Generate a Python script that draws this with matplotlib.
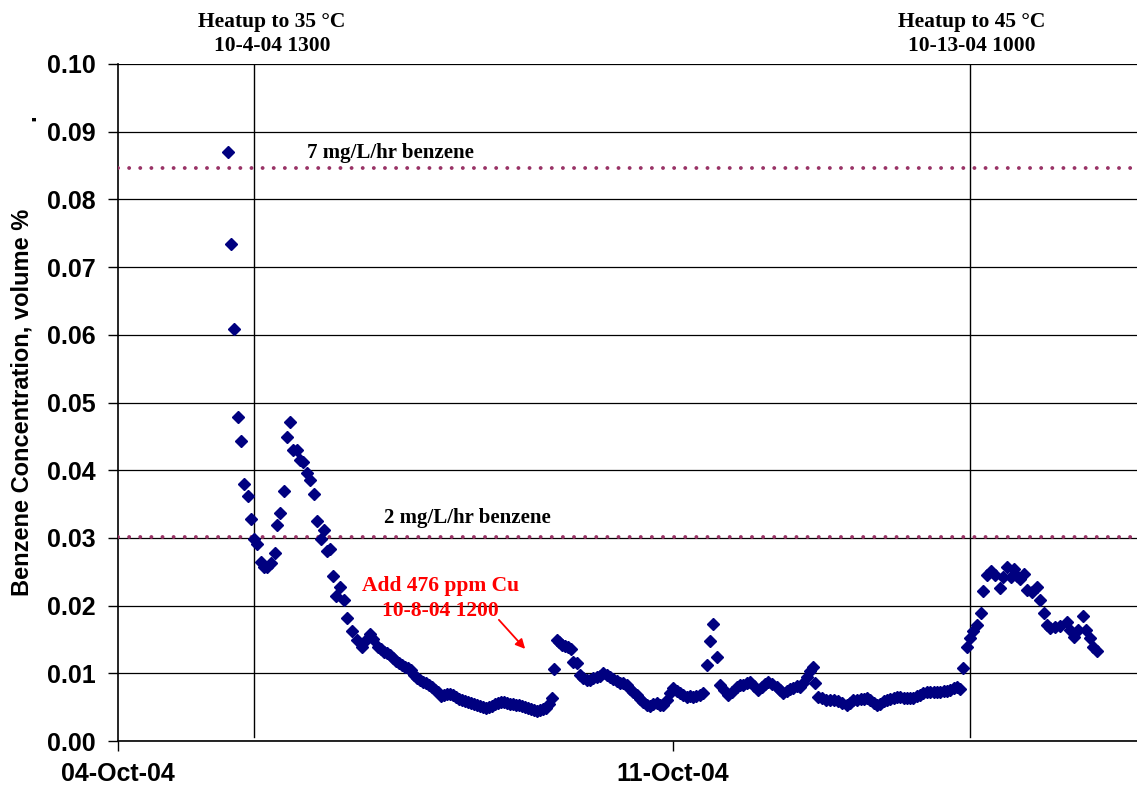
import numpy as np
import matplotlib.pyplot as plt
import matplotlib.dates as mdates
import matplotlib.transforms as mtransforms

# time in days after 04-Oct-04 00:00, benzene in volume %
days = [
    1.387, 1.425, 1.463, 1.510, 1.548, 1.589, 1.636, 1.674, 1.719, 1.757,
    1.804, 1.841, 1.883, 1.926, 1.976, 2.009, 2.043, 2.094, 2.135, 2.169,
    2.211, 2.258, 2.295, 2.337, 2.384, 2.425, 2.472, 2.506, 2.556, 2.594,
    2.632, 2.674, 2.715, 2.749, 2.800, 2.844, 2.894, 2.955, 3.010, 3.074,
    3.115, 3.178, 3.220, 3.283, 3.317, 3.355, 3.393, 3.430, 3.468, 3.506,
    3.544, 3.582, 3.620, 3.657, 3.695, 3.733, 3.771, 3.809, 3.847, 3.885,
    3.922, 3.960, 3.998, 4.036, 4.074, 4.112, 4.149, 4.187, 4.225, 4.263,
    4.301, 4.339, 4.376, 4.414, 4.452, 4.490, 4.528, 4.566, 4.603, 4.641,
    4.679, 4.717, 4.755, 4.793, 4.830, 4.868, 4.906, 4.944, 4.982, 5.020,
    5.057, 5.095, 5.133, 5.171, 5.209, 5.247, 5.284, 5.322, 5.360, 5.398,
    5.436, 5.474, 5.499, 5.533, 5.562, 5.600, 5.638, 5.675, 5.713, 5.742,
    5.783, 5.827, 5.865, 5.911, 5.953, 5.994, 6.037, 6.079, 6.121, 6.161,
    6.205, 6.243, 6.287, 6.331, 6.369, 6.416, 6.457, 6.495, 6.539, 6.584,
    6.621, 6.668, 6.710, 6.748, 6.794, 6.836, 6.877, 6.924, 6.962, 7.004,
    7.044, 7.088, 7.126, 7.173, 7.214, 7.252, 7.290, 7.334, 7.382, 7.425,
    7.466, 7.500, 7.551, 7.592, 7.643, 7.697, 7.744, 7.803, 7.845, 7.886,
    7.927, 7.971, 8.021, 8.076, 8.116, 8.160, 8.201, 8.248, 8.307, 8.349,
    8.391, 8.431, 8.475, 8.517, 8.564, 8.602, 8.643, 8.686, 8.728, 8.762,
    8.791, 8.832, 8.879, 8.929, 8.980, 9.030, 9.081, 9.131, 9.190, 9.232,
    9.274, 9.320, 9.371, 9.409, 9.446, 9.484, 9.529, 9.569, 9.610, 9.655,
    9.695, 9.737, 9.787, 9.825, 9.863, 9.907, 9.951, 9.989, 10.030, 10.077,
    10.115, 10.157, 10.203, 10.241, 10.285, 10.326, 10.367, 10.411, 10.452, 10.493,
    10.537, 10.578, 10.619, 10.661, 10.704, 10.746, 10.787, 10.830, 10.880, 10.913,
    10.964, 11.006, 11.061, 11.124, 11.166, 11.216, 11.259, 11.300, 11.334, 11.376,
    11.427, 11.468, 11.524, 11.587, 11.628, 11.679, 11.713, 11.755, 11.818, 11.880,
    11.965, 12.007, 12.057, 12.112, 12.167, 12.209, 12.259, 12.301, 12.343,
]
benzene = [
    0.0870, 0.0734, 0.0609, 0.0479, 0.0443, 0.0380, 0.0362, 0.0328, 0.0298, 0.0291,
    0.0264, 0.0257, 0.0257, 0.0263, 0.0278, 0.0319, 0.0337, 0.0369, 0.0449, 0.0471,
    0.0430, 0.0430, 0.0415, 0.0412, 0.0396, 0.0386, 0.0365, 0.0325, 0.0298, 0.0312,
    0.0281, 0.0284, 0.0244, 0.0214, 0.0227, 0.0208, 0.0182, 0.0162, 0.0149, 0.0139,
    0.0148, 0.0158, 0.0151, 0.0139, 0.0136, 0.0131, 0.0130, 0.0127, 0.0123, 0.0118,
    0.0115, 0.0112, 0.0109, 0.0108, 0.0105, 0.0097, 0.0093, 0.0090, 0.0087, 0.0086,
    0.0083, 0.0080, 0.0075, 0.0072, 0.0066, 0.0068, 0.0069, 0.0069, 0.0068, 0.0065,
    0.0062, 0.0061, 0.0059, 0.0058, 0.0056, 0.0055, 0.0053, 0.0052, 0.0050, 0.0049,
    0.0050, 0.0052, 0.0055, 0.0056, 0.0058, 0.0058, 0.0056, 0.0055, 0.0055, 0.0053,
    0.0053, 0.0052, 0.0050, 0.0049, 0.0047, 0.0046, 0.0044, 0.0046, 0.0047, 0.0049,
    0.0055, 0.0064, 0.0106, 0.0149, 0.0146, 0.0142, 0.0140, 0.0139, 0.0136, 0.0117,
    0.0115, 0.0097, 0.0093, 0.0090, 0.0090, 0.0093, 0.0095, 0.0096, 0.0100, 0.0097,
    0.0095, 0.0092, 0.0089, 0.0086, 0.0086, 0.0083, 0.0077, 0.0072, 0.0068, 0.0062,
    0.0058, 0.0053, 0.0052, 0.0055, 0.0056, 0.0053, 0.0053, 0.0061, 0.0071, 0.0078,
    0.0074, 0.0071, 0.0068, 0.0065, 0.0066, 0.0065, 0.0066, 0.0068, 0.0071, 0.0112,
    0.0148, 0.0173, 0.0124, 0.0083, 0.0075, 0.0068, 0.0072, 0.0080, 0.0083, 0.0083,
    0.0086, 0.0087, 0.0081, 0.0075, 0.0080, 0.0084, 0.0087, 0.0084, 0.0080, 0.0075,
    0.0071, 0.0074, 0.0077, 0.0078, 0.0081, 0.0080, 0.0086, 0.0095, 0.0103, 0.0109,
    0.0086, 0.0065, 0.0064, 0.0061, 0.0061, 0.0061, 0.0059, 0.0056, 0.0053, 0.0056,
    0.0061, 0.0061, 0.0062, 0.0062, 0.0064, 0.0061, 0.0056, 0.0053, 0.0055, 0.0059,
    0.0061, 0.0062, 0.0064, 0.0065, 0.0065, 0.0064, 0.0064, 0.0064, 0.0064, 0.0066,
    0.0068, 0.0071, 0.0072, 0.0072, 0.0072, 0.0072, 0.0072, 0.0074, 0.0074, 0.0075,
    0.0078, 0.0080, 0.0077, 0.0108, 0.0139, 0.0152, 0.0162, 0.0171, 0.0189, 0.0222,
    0.0245, 0.0251, 0.0245, 0.0226, 0.0242, 0.0257, 0.0242, 0.0254, 0.0244, 0.0239,
    0.0247, 0.0223, 0.0220, 0.0227, 0.0208, 0.0189, 0.0171, 0.0167, 0.0168, 0.0170,
    0.0176, 0.0164, 0.0154, 0.0164, 0.0185, 0.0164, 0.0152, 0.0139, 0.0133,
]

start = np.datetime64("2004-10-04T00:00")
date_ticks = ["2004-10-04", "2004-10-11"]
heatups = [1.715, 10.745]
heatup_labels = ["Heatup to 35 \u00b0C\n10-4-04 1300", "Heatup to 45 \u00b0C\n10-13-04 1000"]
heatup_label_x = [1.942, 10.771]
rate_levels = [0.0847, 0.0301]
rate_labels = ["7 mg/L/hr benzene", "2 mg/L/hr benzene"]
rate_label_pos = [(2.384, 0.0869), (3.355, 0.0329)]


def to_time(d):
    return start + (np.asarray(d) * 86400).astype("timedelta64[s]")


fig = plt.figure(figsize=(11.37, 7.89), dpi=100)
ax = fig.add_axes([0.1038, 0.0608, 0.8962, 0.8581])

t = to_time(days)
ax.plot(t, benzene, linestyle="none", marker="D", markersize=6,
        color="#000080", zorder=4)

for lvl in rate_levels:
    ax.axhline(lvl, color="#993366", linewidth=2.8, linestyle=(0, (0.01, 2.85)),
               dash_capstyle="round", zorder=3)

for h in heatups:
    ax.axvline(to_time(h), ymin=0.006, ymax=1, color="black", linewidth=1.0, zorder=2)

trans = mtransforms.blended_transform_factory(ax.transData, ax.transAxes)
for lx, lab in zip(heatup_label_x, heatup_labels):
    ax.text(to_time(lx), 1.044, lab, transform=trans, ha="center", va="center",
            family="Liberation Serif", fontweight="bold", fontsize=15.5, linespacing=1.3)

for (lx, ly), lab in zip(rate_label_pos, rate_labels):
    ax.text(to_time(lx), ly, lab, ha="left", va="center",
            family="Liberation Serif", fontweight="bold", fontsize=15)

ax.text(to_time(4.061), 0.02105, "Add 476 ppm Cu\n10-8-04 1200", ha="center", va="center",
        color="red", family="Liberation Serif", fontweight="bold", fontsize=15.5, linespacing=1.3)
ax.annotate("", xy=(to_time(5.158), 0.0133), xytext=(to_time(4.780), 0.0182),
            arrowprops=dict(arrowstyle="-|>", color="red", lw=1.3, mutation_scale=14))

ax.set_ylim(0, 0.10)
ax.set_xlim(to_time(0), to_time(12.851))
ax.set_yticks(np.arange(0, 0.1001, 0.01))
ax.yaxis.set_major_formatter(plt.FormatStrFormatter("%.2f"))
ax.set_xticks([np.datetime64(d) for d in date_ticks])
ax.xaxis.set_major_formatter(mdates.DateFormatter("%d-%b-%y"))

ax.grid(axis="y", color="black", linewidth=0.9, zorder=1)
ax.set_axisbelow(True)
for s in ["top", "right"]:
    ax.spines[s].set_visible(False)
for s in ["left", "bottom"]:
    ax.spines[s].set_linewidth(1.2)

ax.tick_params(axis="y", direction="out", length=7, width=1, pad=9)
ax.tick_params(axis="x", direction="out", length=7, width=1, pad=8)
for lab in ax.get_xticklabels() + ax.get_yticklabels():
    lab.set_family("Liberation Sans")
    lab.set_fontweight("bold")
    lab.set_fontsize(18)

ax.set_ylabel("Benzene Concentration, volume %", family="Liberation Sans",
              fontweight="bold", fontsize=17, labelpad=10)
fig.text(29 / 1137, 1 - 118 / 789, ".", ha="center", va="center", rotation=90,
         family="Liberation Sans", fontweight="bold", fontsize=17)

fig.savefig("out.png", dpi=100)
